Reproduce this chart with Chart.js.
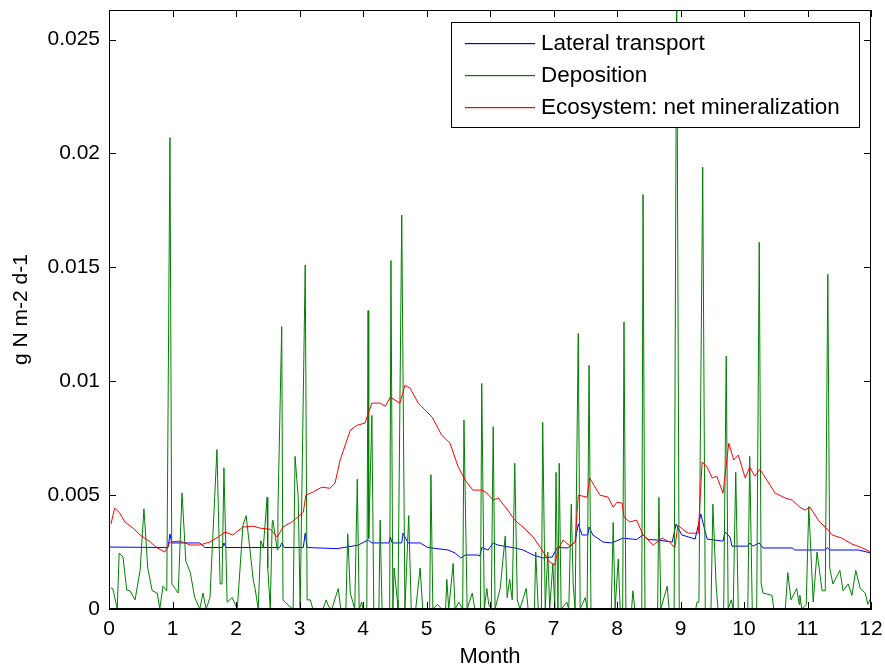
<!DOCTYPE html>
<html>
<head>
<meta charset="utf-8">
<script src="https://cdn.jsdelivr.net/npm/chart.js@4.4.1/dist/chart.umd.min.js"></script>
<style>
  html, body { margin: 0; padding: 0; background: #fff; }
  canvas { display: block; }
</style>
</head>
<body>
<canvas id="chart" width="885" height="670"></canvas>
<script>
// values, x in months
const latMonths = [
  0.0, 0.88, 0.93, 0.96, 0.99, 1.43, 1.51, 1.79, 1.81, 1.84,
  2.69, 2.72, 2.76, 3.06, 3.09, 3.12, 3.59, 3.92, 4.08, 4.14,
  4.41, 4.43, 4.46, 4.61, 4.63, 4.71, 4.90, 5.02, 5.34, 5.45,
  5.54, 5.61, 5.80, 5.84, 5.87, 5.97, 6.05, 6.13, 6.39, 6.52,
  6.68, 6.83, 6.98, 7.06, 7.23, 7.34, 7.39, 7.45, 7.54, 7.56,
  7.62, 7.78, 7.92, 8.09, 8.31, 8.41, 8.49, 8.63, 8.87, 8.93,
  9.02, 9.13, 9.23, 9.32, 9.39, 9.42, 9.67, 9.70, 9.78, 9.81,
  10.06, 10.09, 10.14, 10.24, 10.30, 10.76, 10.80, 11.28, 11.31, 11.35,
  11.80, 12.0
];
const latValues = [
  0.00272, 0.0027, 0.0027, 0.00329, 0.0029, 0.0029, 0.0027, 0.0027, 0.0029, 0.0027,
  0.0027, 0.0029, 0.0027, 0.0027, 0.00333, 0.0027, 0.00265, 0.0028, 0.00303, 0.0029,
  0.0029, 0.00316, 0.0029, 0.0029, 0.00333, 0.0029, 0.0029, 0.0027, 0.00259, 0.00246,
  0.00224, 0.00237, 0.00237, 0.00233, 0.0027, 0.00259, 0.0029, 0.0028, 0.00268, 0.00259,
  0.00237, 0.00224, 0.00228, 0.0027, 0.00268, 0.00294, 0.00373, 0.00325, 0.00325, 0.0036,
  0.00325, 0.00294, 0.0029, 0.00311, 0.00305, 0.00325, 0.00305, 0.00303, 0.00294, 0.00373,
  0.00325, 0.00316, 0.00307, 0.00417, 0.00338, 0.00307, 0.00298, 0.00338, 0.00316, 0.00276,
  0.00276, 0.0029, 0.00276, 0.0029, 0.00268, 0.00268, 0.00259, 0.00259, 0.0027, 0.00259,
  0.00259, 0.00246
];

const depMonths = [
  0.03, 0.06, 0.13, 0.16, 0.22, 0.28, 0.33, 0.41, 0.49, 0.55,
  0.61, 0.68, 0.76, 0.80, 0.85, 0.91, 0.96, 0.99, 1.04, 1.09,
  1.15, 1.21, 1.28, 1.35, 1.43, 1.48, 1.53, 1.59, 1.70, 1.75,
  1.78, 1.81, 1.86, 1.94, 2.02, 2.11, 2.16, 2.22, 2.27, 2.30,
  2.35, 2.39, 2.43, 2.49, 2.50, 2.54, 2.57, 2.58, 2.65, 2.66,
  2.72, 2.74, 2.85, 2.90, 2.93, 2.98, 3.01, 3.09, 3.12, 3.17,
  3.21, 3.37, 3.42, 3.46, 3.51, 3.61, 3.65, 3.73, 3.76, 3.80,
  3.84, 3.87, 3.91, 3.94, 3.98, 4.00, 4.06, 4.08, 4.09, 4.14,
  4.17, 4.25, 4.27, 4.30, 4.42, 4.44, 4.47, 4.49, 4.54, 4.55,
  4.61, 4.66, 4.72, 4.76, 4.83, 4.90, 4.94, 5.05, 5.07, 5.10,
  5.17, 5.24, 5.30, 5.32, 5.35, 5.42, 5.45, 5.51, 5.57, 5.59,
  5.64, 5.72, 5.76, 5.85, 5.87, 5.91, 5.95, 5.98, 6.02, 6.05,
  6.08, 6.16, 6.24, 6.27, 6.31, 6.35, 6.39, 6.43, 6.47, 6.57,
  6.60, 6.70, 6.72, 6.76, 6.81, 6.83, 6.87, 6.91, 6.94, 6.99,
  7.02, 7.04, 7.07, 7.09, 7.12, 7.21, 7.24, 7.28, 7.31, 7.34,
  7.39, 7.42, 7.50, 7.53, 7.56, 7.59, 7.91, 7.94, 7.97, 8.02,
  8.05, 8.09, 8.11, 8.14, 8.23, 8.25, 8.28, 8.39, 8.41, 8.44,
  8.60, 8.64, 8.66, 8.69, 8.74, 8.79, 8.82, 8.90, 8.94, 8.98,
  9.24, 9.26, 9.29, 9.35, 9.39, 9.48, 9.51, 9.56, 9.59, 9.68,
  9.72, 9.75, 9.80, 9.83, 9.87, 9.91, 10.06, 10.09, 10.13, 10.20,
  10.24, 10.27, 10.30, 10.44, 10.47, 10.65, 10.69, 10.74, 10.83, 10.87,
  10.88, 10.91, 10.98, 11.02, 11.09, 11.15, 11.23, 11.28, 11.32, 11.35,
  11.40, 11.51, 11.56, 11.64, 11.70, 11.76, 11.83, 11.91, 11.95, 12.0
];
const depValues = [
  0.00092, 0.0009, 0, 0.00246, 0.00228, 0.00083, 0.0008, 0.0004, 0.0017, 0.0044,
  0.0018, 0.0008, 0.0007, 0, 0.001, 0.0008, 0.0207, 0.0011, 0.0009, 0.0007,
  0.0051, 0.0021, 0.0016, 0.0005, 0, 0.0007, 0, 0.0005, 0.007, 0.0011,
  0.0011, 0.0062, 0.0003, 0.0005, 0, 0.0037, 0.0041, 0.0026, 0.0013, 0.0009,
  0, 0.003, 0.0027, 0.0049, 0.0018, 0, 0.0038, 0.0039, 0.0026, 0.0043,
  0.0124, 0.0004, 0.0001, 0, 0.0067, 0.0049, 0, 0.0151, 0.0004, 0.0004,
  0, 0, 0.0004, 0.0001, 0, 0.0009, 0, 0, 0.0033, 0.0007,
  0.0003, 0, 0.0057, 0, 0.0003, 0, 0, 0.0131, 0.0031, 0.0085,
  0, 0, 0.0039, 0, 0, 0.0153, 0, 0.0018, 0.0004, 0,
  0.0173, 0, 0.0041, 0, 0, 0.0018, 0, 0, 0.0059, 0,
  0.0002, 0, 0, 0.0013, 0, 0.002, 0, 0.0003, 0, 0.0083,
  0, 0.0007, 0, 0, 0.0099, 0, 0.0009, 0.0002, 0, 0.008,
  0, 0.0009, 0.0032, 0.0005, 0.0013, 0.0004, 0.0064, 0.0004, 0, 0.0009,
  0, 0, 0.0025, 0, 0, 0.0082, 0, 0.0025, 0, 0.002,
  0, 0.006, 0, 0.0064, 0, 0.0003, 0, 0.0046, 0.0011, 0,
  0.0121, 0, 0.0005, 0, 0.0107, 0, 0, 0.0038, 0, 0.0022,
  0, 0, 0.0126, 0, 0, 0.0008, 0, 0, 0.0182, 0,
  0, 0, 0.0049, 0, 0.0005, 0.001, 0, 0, 0.028, 0,
  0, 0.0003, 0.0003, 0.0194, 0, 0, 0.0046, 0.0011, 0, 0,
  0.0111, 0, 0.0004, 0, 0.006, 0, 0, 0.0067, 0, 0,
  0.0161, 0.0011, 0.0007, 0.0006, 0, 0, 0.0016, 0.0004, 0.0009, 0.0002,
  0.0006, 0, 0.0002, 0.0045, 0.0003, 0.0025, 0.0008, 0.0008, 0.0147, 0.0018,
  0.0011, 0.0017, 0.0008, 0.0011, 0.0006, 0.0017, 0.0009, 0.0007, 0.0002, 0.0005
];

const minMonths = [
  0.03, 0.09, 0.17, 0.25, 0.38, 0.49, 0.65, 0.76, 0.88, 0.96,
  1.12, 1.28, 1.43, 1.59, 1.72, 1.83, 1.95, 2.11, 2.27, 2.38,
  2.54, 2.65, 2.74, 2.88, 2.99, 3.06, 3.10, 3.21, 3.35, 3.48,
  3.56, 3.64, 3.80, 3.91, 4.03, 4.14, 4.27, 4.35, 4.43, 4.58,
  4.66, 4.74, 4.87, 5.09, 5.24, 5.37, 5.50, 5.61, 5.73, 5.87,
  5.95, 6.05, 6.13, 6.28, 6.39, 6.52, 6.68, 6.82, 6.94, 7.02,
  7.07, 7.15, 7.26, 7.34, 7.39, 7.53, 7.57, 7.73, 7.86, 7.94,
  8.00, 8.08, 8.11, 8.20, 8.31, 8.41, 8.57, 8.71, 8.83, 8.91,
  8.96, 9.07, 9.13, 9.28, 9.34, 9.42, 9.50, 9.57, 9.67, 9.76,
  9.84, 9.91, 10.02, 10.09, 10.17, 10.25, 10.36, 10.49, 10.65, 10.76,
  10.88, 10.96, 11.04, 11.17, 11.31, 11.39, 11.54, 11.70, 11.83, 12.0
];
const minValues = [
  0.00373, 0.00443, 0.00421, 0.00382, 0.00355, 0.00325, 0.00294, 0.00268, 0.0025, 0.00294,
  0.00298, 0.00281, 0.00281, 0.00294, 0.00316, 0.00338, 0.00325, 0.0036, 0.00364, 0.00355,
  0.0035, 0.00316, 0.0036, 0.00382, 0.00408, 0.00425, 0.005, 0.00513, 0.00535, 0.0053,
  0.00553, 0.00654, 0.00785, 0.00807, 0.00816, 0.00904, 0.00904, 0.0089, 0.0093, 0.00904,
  0.00982, 0.0097, 0.00904, 0.00842, 0.00763, 0.00728, 0.00623, 0.00566, 0.00522, 0.00522,
  0.00509, 0.00478, 0.00487, 0.00434, 0.0039, 0.0036, 0.00316, 0.00259, 0.00206, 0.00193,
  0.00259, 0.00303, 0.00276, 0.00294, 0.005, 0.00491, 0.00575, 0.005, 0.00491, 0.00447,
  0.00469, 0.00465, 0.00404, 0.00382, 0.0039, 0.00325, 0.00281, 0.00311, 0.00294, 0.00268,
  0.00368, 0.00342, 0.00333, 0.00333, 0.00645, 0.00623, 0.00575, 0.00583, 0.00509, 0.00728,
  0.00654, 0.00676, 0.00575, 0.00623, 0.00583, 0.00614, 0.00566, 0.00509, 0.00487, 0.00478,
  0.00447, 0.00434, 0.00447, 0.0039, 0.0035, 0.00325, 0.00311, 0.00285, 0.00272, 0.0025
];

const seriesNames = ['Lateral transport', 'Deposition', 'Ecosystem: net mineralization'];
const seriesColors = ['#0000ff', '#008000', '#ff0000'];
const xTickValues = [0, 1, 2, 3, 4, 5, 6, 7, 8, 9, 10, 11, 12];
const yTickValues = [0, 0.005, 0.01, 0.015, 0.02, 0.025];

const FONT = '"Liberation Sans", Arial, sans-serif';

function toPoints(months, values) {
  return months.map((m, i) => ({ x: m, y: values[i] }));
}

// no extra room for overhanging tick labels, the plot box is fixed
function noPadding(scale) {
  scale.paddingLeft = 0;
  scale.paddingRight = 0;
  scale.paddingTop = 0;
  scale.paddingBottom = 0;
}

// matlab style box: black frame, inward ticks on all four sides, legend inside
const boxPlugin = {
  id: 'box',
  afterDraw(chart) {
    const ctx = chart.ctx;
    const a = chart.chartArea;
    const xs = chart.scales.x;
    const ys = chart.scales.y;
    const tl = 7;

    ctx.save();

    // legend
    const lx = 451, ly = 22, lw = 408, lh = 105;
    ctx.fillStyle = '#fff';
    ctx.fillRect(lx, ly, lw, lh);
    ctx.strokeStyle = '#000';
    ctx.lineWidth = 1;
    ctx.strokeRect(lx + 0.5, ly + 0.5, lw, lh);
    ctx.font = '22.5px ' + FONT;
    ctx.textBaseline = 'middle';
    ctx.textAlign = 'left';
    const rows = [43, 75, 107];
    seriesNames.forEach((name, i) => {
      ctx.fillStyle = seriesColors[i];
      ctx.fillRect(465, rows[i], 70, 1.2);
      ctx.fillStyle = '#000';
      ctx.fillText(name, 541, rows[i] + 1);
    });

    // frame and ticks
    ctx.strokeStyle = '#000';
    ctx.lineWidth = 1;
    ctx.strokeRect(Math.round(a.left) + 0.5, Math.round(a.top) + 0.5,
      Math.round(a.right - a.left) - 1, Math.round(a.bottom - a.top) - 1);
    ctx.beginPath();
    xTickValues.forEach(v => {
      const px = Math.round(xs.getPixelForValue(v)) + 0.5;
      ctx.moveTo(px, a.bottom);
      ctx.lineTo(px, a.bottom - tl);
      ctx.moveTo(px, a.top);
      ctx.lineTo(px, a.top + tl);
    });
    yTickValues.forEach(v => {
      const py = Math.round(ys.getPixelForValue(v)) + 0.5;
      ctx.moveTo(a.left, py);
      ctx.lineTo(a.left + tl, py);
      ctx.moveTo(a.right, py);
      ctx.lineTo(a.right - tl, py);
    });
    ctx.stroke();
    ctx.restore();
  }
};

const seriesData = [
  toPoints(latMonths, latValues),
  toPoints(depMonths, depValues),
  toPoints(minMonths, minValues)
];

const chart = new Chart(document.getElementById('chart').getContext('2d'), {
  type: 'line',
  data: {
    datasets: seriesData.map((d, i) => ({
      label: seriesNames[i],
      data: d,
      borderColor: seriesColors[i],
      backgroundColor: seriesColors[i],
      borderWidth: 1,
      pointRadius: 0,
      tension: 0,
      fill: false,
      order: 3 - i
    }))
  },
  options: {
    responsive: false,
    animation: false,
    layout: { padding: { top: 10, right: 14, left: 0, bottom: 0 } },
    plugins: {
      legend: { display: false },
      tooltip: { enabled: false }
    },
    scales: {
      x: {
        type: 'linear',
        min: 0,
        max: 12,
        grid: { display: false, drawTicks: false },
        border: { color: '#000' },
        ticks: {
          stepSize: 1,
          padding: 8,
          color: '#000',
          font: { family: FONT, size: 21 },
          maxRotation: 0
        },
        title: {
          display: true,
          text: 'Month',
          color: '#000',
          font: { family: FONT, size: 22 },
          padding: 0
        },
        afterFit(scale) {
          scale.height = 61;
          noPadding(scale);
        }
      },
      y: {
        type: 'linear',
        min: 0,
        max: 0.0263,
        grid: { display: false, drawTicks: false },
        border: { color: '#000' },
        ticks: {
          stepSize: 0.005,
          includeBounds: false,
          padding: 9,
          color: '#000',
          font: { family: FONT, size: 21 },
          callback: v => String(Number(v.toFixed(3)))
        },
        title: {
          display: true,
          text: 'g N m-2 d-1',
          color: '#000',
          font: { family: FONT, size: 21 },
          padding: { top: 9, bottom: 0 }
        },
        afterFit(scale) {
          scale.width = 109;
          noPadding(scale);
        }
      }
    }
  },
  plugins: [boxPlugin]
});
</script>
</body>
</html>
